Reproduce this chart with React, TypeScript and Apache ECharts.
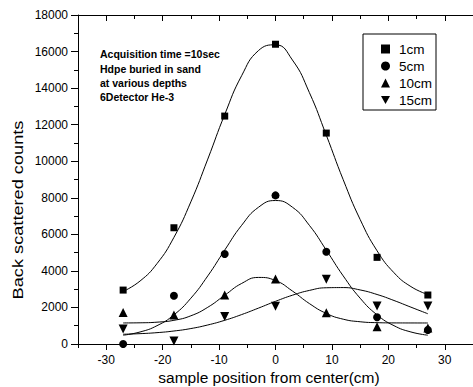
import React, { useEffect, useRef } from 'react';
import * as echarts from 'echarts';

// Measured sample positions (cm) and back-scattered counts
const xPositions = [-27, -18, -9, 0, 9, 18, 27];
const counts1cm = [2950, 6360, 12470, 16400, 11540, 4740, 2680];
const counts5cm = [0, 2640, 4920, 8130, 5050, 1460, 770];
const counts10cm = [1730, 1590, 2680, 3560, 1710, 950, 870];
const counts15cm = [820, 160, 1500, 2070, 3540, 2080, 2080];

// Fitted curves
const fitX = [-27, -24, -21, -18, -15, -12, -9, -6, -3, 0, 3, 6, 9, 12, 15, 18, 21, 24, 27];
const fit1cm = [2875, 3446, 4398, 5834, 7778, 10116, 12555, 14680, 16059, 16368, 15536, 13758, 11426, 8989, 6812, 5100, 3899, 3140, 2706];
const fit5cm = [482, 658, 1002, 1595, 2505, 3726, 5138, 6493, 7485, 7850, 7485, 6493, 5138, 3726, 2505, 1595, 1002, 658, 482];
const fit10cm = [1152, 1160, 1194, 1296, 1543, 2009, 2667, 3313, 3642, 3472, 2898, 2213, 1673, 1357, 1217, 1167, 1154, 1151, 1150];
const fit15cm = [534, 566, 621, 711, 845, 1041, 1296, 1610, 1966, 2334, 2669, 2931, 3077, 3087, 2957, 2709, 2380, 2015, 1655];

const seriesNames = ['1cm', '5cm', '10cm', '15cm'];
const majorTicks = [-30, -20, -10, 0, 10, 20, 30];
const minorTicks = [-35, -25, -15, -5, 5, 15, 25, 35];
const annotationLines = ['Acquisition time =10sec', 'Hdpe buried in sand', 'at various depths', '6Detector He-3'];
const xTitle = 'sample position from center(cm)';
const yTitle = 'Back scattered counts';

export default function App() {
  const ref = useRef<HTMLDivElement>(null);
  useEffect(() => {
    const chart = echarts.init(ref.current!, null, { renderer: 'svg' });
    const font = 'Liberation Sans, Arial, sans-serif';
    const pts = (vals: number[]) => xPositions.map((x, i) => [x, vals[i]]);
    const fit = (vals: number[]) => fitX.map((x, i) => [x, vals[i]]);
    const downTri = 'path://M0,0L10,0L5,8.66Z';
    const black = { color: '#000', width: 1 };
    const xBase = { type: 'value', min: -35, max: 35, splitLine: { show: false } };
    const symbols = ['rect', 'circle', 'triangle', downTri];
    const sizes = [7, 8, 9, 9];
    const data = [counts1cm, counts5cm, counts10cm, counts15cm];
    const fits = [fit1cm, fit5cm, fit10cm, fit15cm];

    const series: any[] = [];
    fits.forEach((f, i) => {
      series.push({
        name: 'fit' + i,
        type: 'line',
        data: fit(f),
        smooth: true,
        symbol: 'none',
        showSymbol: false,
        lineStyle: { color: '#000', width: 1 },
        itemStyle: { color: '#000' },
        z: 1,
        silent: true,
      });
    });
    data.forEach((d, i) => {
      series.push({
        name: seriesNames[i],
        type: 'scatter',
        data: pts(d),
        symbol: symbols[i],
        symbolSize: sizes[i],
        itemStyle: { color: '#000', opacity: 1 },
        z: 3,
      });
    });

    chart.setOption({
      animation: false,
      backgroundColor: '#fff',
      grid: { left: 78, top: 15, right: -9, bottom: 43, containLabel: false },
      xAxis: [
        {
          ...xBase,
          position: 'bottom',
          axisLine: { show: true, onZero: false, lineStyle: black },
          axisTick: { show: true, customValues: majorTicks, length: 6, inside: false, lineStyle: black },
          axisLabel: { show: true, customValues: majorTicks, color: '#000', fontSize: 12, fontFamily: font, margin: 10, formatter: (v: number) => String(v) },
        },
        {
          ...xBase,
          position: 'bottom',
          axisLine: { show: false, onZero: false },
          axisTick: { show: true, customValues: minorTicks, length: 4, inside: false, lineStyle: black },
          axisLabel: { show: false },
        },
        {
          ...xBase,
          position: 'top',
          axisLine: { show: true, onZero: false, lineStyle: black },
          axisTick: { show: true, customValues: majorTicks, length: 6, inside: true, lineStyle: black },
          axisLabel: { show: false },
        },
        {
          ...xBase,
          position: 'top',
          axisLine: { show: false, onZero: false },
          axisTick: { show: true, customValues: minorTicks, length: 4, inside: true, lineStyle: black },
          axisLabel: { show: false },
        },
      ],
      yAxis: {
        type: 'value',
        min: 0,
        max: 18000,
        interval: 2000,
        axisLine: { show: true, onZero: false, lineStyle: black },
        axisTick: { show: true, length: 7, lineStyle: black },
        minorTick: { show: true, splitNumber: 2, length: 4, lineStyle: black },
        axisLabel: { color: '#000', fontSize: 12, fontFamily: font, margin: 10, formatter: (v: number) => String(v) },
        splitLine: { show: false },
        minorSplitLine: { show: false },
      },
      legend: {
        data: seriesNames,
        left: 363,
        top: 34,
        orient: 'vertical',
        borderColor: '#000',
        borderWidth: 1,
        borderRadius: 0,
        padding: [8, 4, 3, 18],
        itemWidth: 9,
        itemHeight: 9,
        itemGap: 3,
        textStyle: { fontSize: 13.5, fontFamily: font, color: '#000', lineHeight: 14, padding: [0, 0, 0, 4] },
      },
      graphic: [
        {
          type: 'text',
          left: 100,
          top: 47,
          style: { text: annotationLines.join('\n'), font: 'bold 10.5px Liberation Sans, Arial, sans-serif', lineHeight: 14.4, fill: '#000' },
        },
        {
          type: 'text',
          x: 18,
          y: 210,
          rotation: Math.PI / 2,
          scaleX: 1.3,
          style: { text: yTitle, font: '14px Liberation Sans, Arial, sans-serif', fill: '#000', align: 'center', verticalAlign: 'middle' },
        },
        {
          type: 'text',
          x: 269,
          y: 377,
          style: { text: xTitle, font: '15.5px Liberation Sans, Arial, sans-serif', fill: '#000', align: 'center', verticalAlign: 'middle' },
        },
      ],
      series,
    });
    return () => chart.dispose();
  }, []);
  return <div ref={ref} style={{ position: 'fixed', left: 0, top: 0, width: 473, height: 387, background: '#fff' }} />;
}
